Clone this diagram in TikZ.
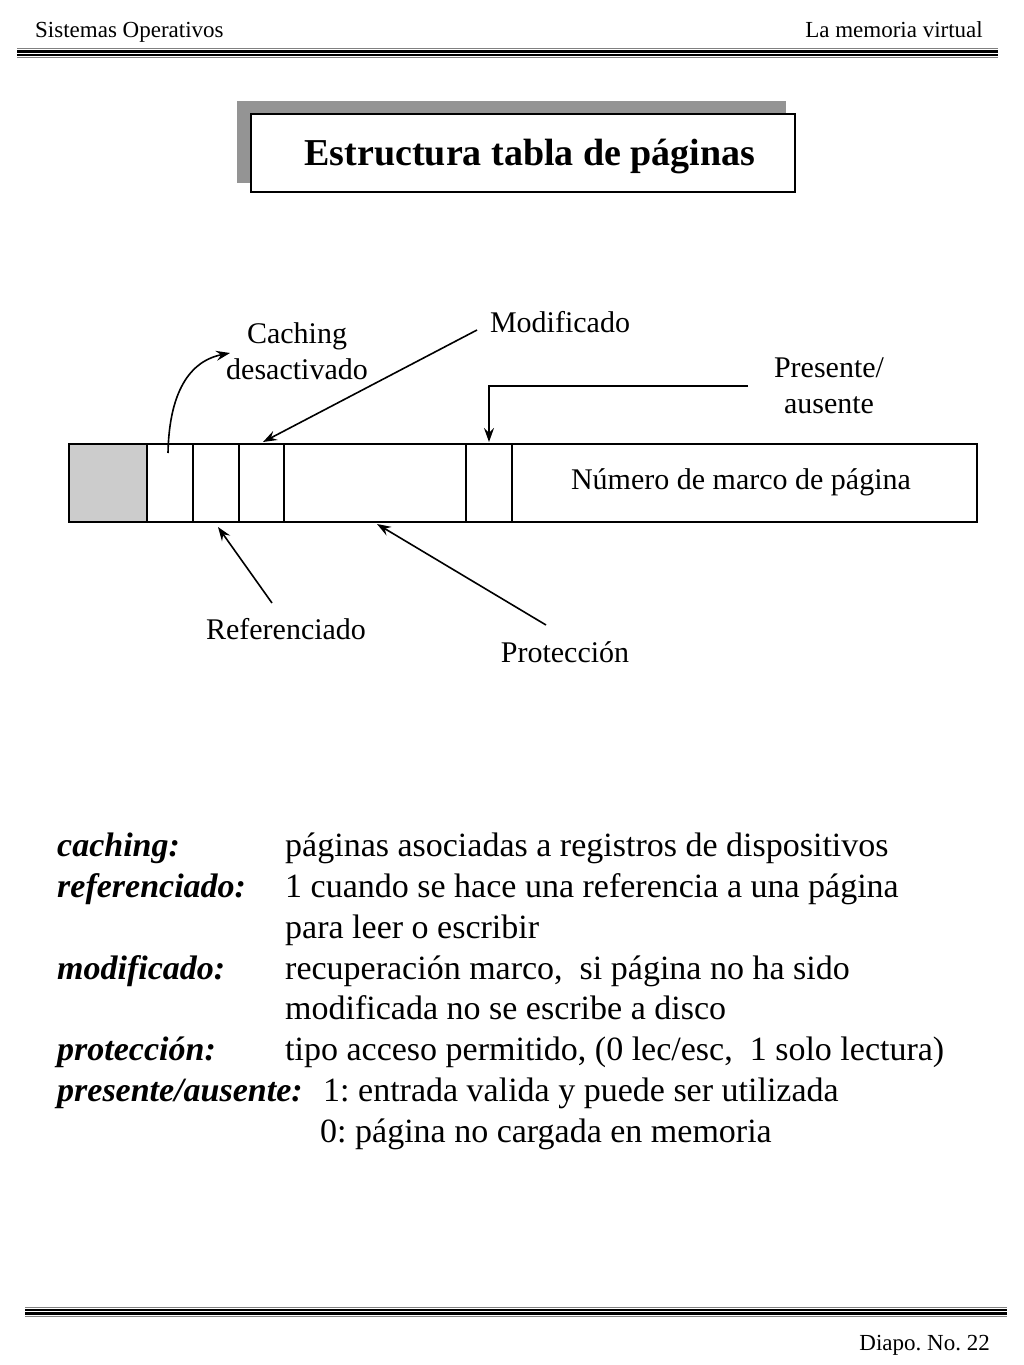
\documentclass[tikz,border=0pt]{standalone}
\usepackage{fontspec}
\setmainfont{Liberation Serif}
\usepackage{tikz}
\usetikzlibrary{calc, arrows.meta, positioning}
\frenchspacing

\begin{document}
\begin{tikzpicture}[x=1pt, y=-1pt, >={Stealth[length=14pt, width=10pt, inset=5pt]},
    lbl/.style={font=\fontsize{30}{36}\selectfont, inner sep=0pt, align=center},
    term/.style={font=\fontsize{34}{40}\selectfont\bfseries\itshape, inner sep=0pt, anchor=base west},
    desc/.style={font=\fontsize{34}{40}\selectfont, inner sep=0pt, anchor=base west},
    hdr/.style={font=\fontsize{23}{26}\selectfont, inner sep=0pt},
    flecha/.style={->, line width=1.6pt}]

    \useasboundingbox (0,0) rectangle (1024,1365);

    % =================================================================
    % 1. CABECERA Y PIE
    % =================================================================
    \node[hdr, anchor=base west] (curso) at (35,37) {Sistemas Operativos};
    \node[hdr, anchor=base east] (tema) at (983,37) {La memoria virtual};
    \draw[line width=0.8pt, gray] (17,48.5) -- (998,48.5);
    \draw[line width=2.6pt] (17,51.5) -- (998,51.5);
    \draw[line width=2.2pt] (17,55) -- (998,55);
    \draw[line width=0.8pt, gray] (17,57.5) -- (998,57.5);

    \draw[line width=0.8pt, gray] (25,1307) -- (1007,1307);
    \draw[line width=2.6pt] (25,1310) -- (1007,1310);
    \draw[line width=2.2pt] (25,1313.5) -- (1007,1313.5);
    \draw[line width=0.8pt, gray] (25,1316.5) -- (1007,1316.5);
    \node[hdr, anchor=base east] (diapo) at (990,1350) {Diapo. No. 22};

    % =================================================================
    % 2. TITULO
    % =================================================================
    \fill[black!42] (237,101) rectangle (786,183);
    \draw[fill=white, line width=1.6pt] (251,114) rectangle (795,192);
    \node[font=\fontsize{38}{44}\selectfont\bfseries, inner sep=0pt] (titulo) at (530,156)
        {Estructura tabla de páginas};

    % =================================================================
    % 3. ENTRADA DE LA TABLA
    % =================================================================
    \coordinate (E1) at (69,444);
    \coordinate (E2) at (977,522);
    \fill[black!20] (69,444) rectangle (147,522);
    \draw[line width=1.8pt] (E1) rectangle (E2);
    \foreach \x in {147,193,239,284,466,512}
        \draw[line width=1.6pt] (\x,444) -- (\x,522);
    \node[lbl] (marco) at (741,482) {Número de marco de página};

    % puntos de las flechas sobre la entrada
    \coordinate (pCach) at (168,453);
    \coordinate (pMod) at (263,442);
    \coordinate (pPres) at (489,442);
    \coordinate (pRef) at (218,527);
    \coordinate (pProt) at (377,524);

    % =================================================================
    % 4. ETIQUETAS Y FLECHAS
    % =================================================================
    \node[lbl] (caching) at (297,351) {Caching\\desactivado};
    \node[lbl] (modif) at (560,322) {Modificado};
    \node[lbl] (presente) at (829,386) {Presente/\\ausente};
    \node[lbl] (refer) at (286,629) {Referenciado};
    \node[lbl] (prot) at (565,652) {Protección};

    \coordinate (tCach) at (230,353);
    \coordinate (tMod) at (477,330);
    \coordinate (tPres) at (748,386);
    \coordinate (tRef) at (272,603);
    \coordinate (tProt) at (546,625);

    \draw[flecha] (pCach) .. controls (169,400) and (185,362) .. (tCach);
    \draw[flecha] (tMod) -- (pMod);
    \draw[flecha] (tPres) -| (pPres);
    \draw[flecha] (tRef) -- (pRef);
    \draw[flecha] (tProt) -- (pProt);

    % =================================================================
    % 5. DEFINICIONES
    % =================================================================
    \node[term] (d1) at (57,856) {caching:};
    \node[desc] (e1) at (285,856) {páginas asociadas a registros de dispositivos};
    \node[term] (d2) at (57,897) {referenciado:};
    \node[desc] (e2) at (285,897) {1 cuando se hace una referencia a una página};
    \node[desc] (e2b) at (285,938) {para leer o escribir};
    \node[term] (d3) at (57,979) {modificado:};
    \node[desc] (e3) at (285,979) {recuperación marco,\ \ si página no ha sido};
    \node[desc] (e3b) at (285,1019) {modificada no se escribe a disco};
    \node[term] (d4) at (57,1060) {protección:};
    \node[desc] (e4) at (285,1060) {tipo acceso permitido, (0 lec/esc,\ \ 1 solo lectura)};
    \node[term] (d5) at (57,1101) {presente/ausente:};
    \node[desc] (e5) at (323,1101) {1: entrada valida y puede ser utilizada};
    \node[desc] (e5b) at (320,1142) {0: página no cargada en memoria};

\end{tikzpicture}
\end{document}
